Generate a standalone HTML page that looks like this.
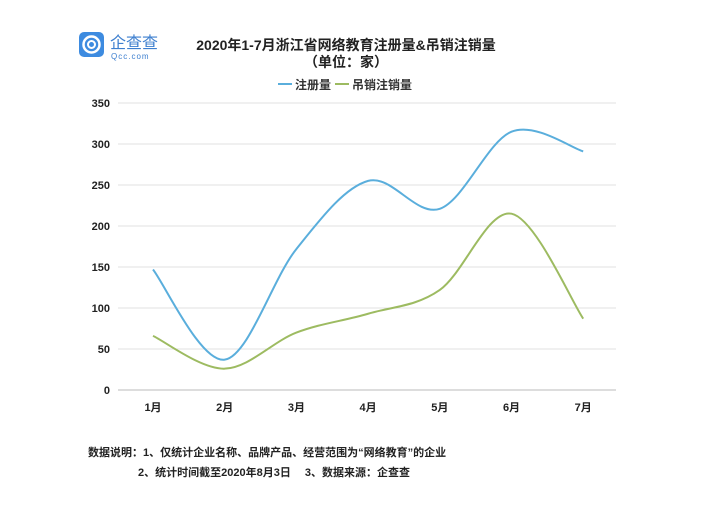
<!DOCTYPE html>
<html><head><meta charset="utf-8"><style>
body{margin:0;background:#fff;font-family:"Liberation Sans","Noto Sans CJK SC",sans-serif;}
#wrap{position:relative;width:720px;height:524px;overflow:hidden;}
</style></head><body>
<div id="wrap">
<svg id="svg" width="720" height="524" xmlns="http://www.w3.org/2000/svg" font-family="Liberation Sans, Noto Sans CJK SC, sans-serif">
<g>
<rect x="79" y="32" width="25" height="25" rx="5" fill="#3d8be0"/>
<circle cx="91.5" cy="44.5" r="8" fill="none" stroke="#fff" stroke-width="2.5"/>
<circle cx="91.5" cy="44.5" r="3.5" fill="none" stroke="#fff" stroke-width="2"/>
<text x="110" y="48" font-size="16" fill="#3d7fcf">企查查</text>
<text x="111" y="59" font-size="8" fill="#3d7fcf" letter-spacing="1">Qcc.com</text>
</g>
<text x="346" y="50" font-size="14" font-weight="bold" text-anchor="middle" fill="#222">2020年1-7月浙江省网络教育注册量&amp;吊销注销量</text>
<text x="346" y="67" font-size="14" font-weight="bold" text-anchor="middle" fill="#222">（单位：家）</text>
<g>
<line x1="278" y1="84" x2="292" y2="84" stroke="#5aaedc" stroke-width="2"/>
<text x="295" y="89" font-size="12" font-weight="bold" fill="#333">注册量</text>
<line x1="335" y1="84" x2="349" y2="84" stroke="#9dbb61" stroke-width="2"/>
<text x="352" y="89" font-size="12" font-weight="bold" fill="#333">吊销注销量</text>
</g>
<g id="grid"></g><g id="lines"></g>
<text x="88" y="456" font-size="11" font-weight="bold" fill="#222">数据说明：1、仅统计企业名称、品牌产品、经营范围为“网络教育”的企业</text>
<text x="138" y="476" font-size="11" font-weight="bold" fill="#222">2、统计时间截至2020年8月3日　 3、数据来源：企查查</text>
</svg>
</div>
<script>
const categories=["1月","2月","3月","4月","5月","6月","7月"];
const registered=[147,37,172,255,221,315,291];
const revoked=[66,26,70,93,122,215,87];
const yTicks=[0,50,100,150,200,250,300,350];
const NS="http://www.w3.org/2000/svg";
const x0=153,dx=71.7,yBase=390,yTop=103,yMax=350;
const X=i=>x0+i*dx, Y=v=>yBase-(v/yMax)*(yBase-yTop);
const grid=document.getElementById('grid'),lines=document.getElementById('lines');
function mk(t,a,p){const e=document.createElementNS(NS,t);for(const k in a)e.setAttribute(k,a[k]);p.appendChild(e);return e;}
yTicks.forEach(v=>{
 const l=mk('line',{x1:118,x2:616,y1:Y(v),y2:Y(v),stroke:v===0?'#bbb':'#e2e2e2','stroke-width':1},grid);
 
 
 const t=mk('text',{x:110,y:Y(v)+4,'font-size':11,'font-weight':'bold','text-anchor':'end',fill:'#222'},grid);
 t.textContent=v;
 
 
});
categories.forEach((c,i)=>{
 const t=mk('text',{x:X(i),y:411,'font-size':11,'font-weight':'bold','text-anchor':'middle',fill:'#222'},grid);
 t.textContent=c;
 
 
});
function path(vals){
 const p=vals.map((v,i)=>[X(i),Y(v)]);let d='M'+p[0][0]+','+p[0][1];
 for(let i=0;i<p.length-1;i++){
  const a=p[i-1]||p[i],b=p[i],c=p[i+1],e=p[i+2]||c;
  const c1=[b[0]+(c[0]-a[0])/6,b[1]+(c[1]-a[1])/6],c2=[c[0]-(e[0]-b[0])/6,c[1]-(e[1]-b[1])/6];
  d+=`C${c1},${c2},${c}`;
 }return d;}
const p1=mk('path',{d:path(registered),fill:'none',stroke:'#5aaedc','stroke-width':2},lines);


const p2=mk('path',{d:path(revoked),fill:'none',stroke:'#9dbb61','stroke-width':2},lines);


</script>
</body></html>
